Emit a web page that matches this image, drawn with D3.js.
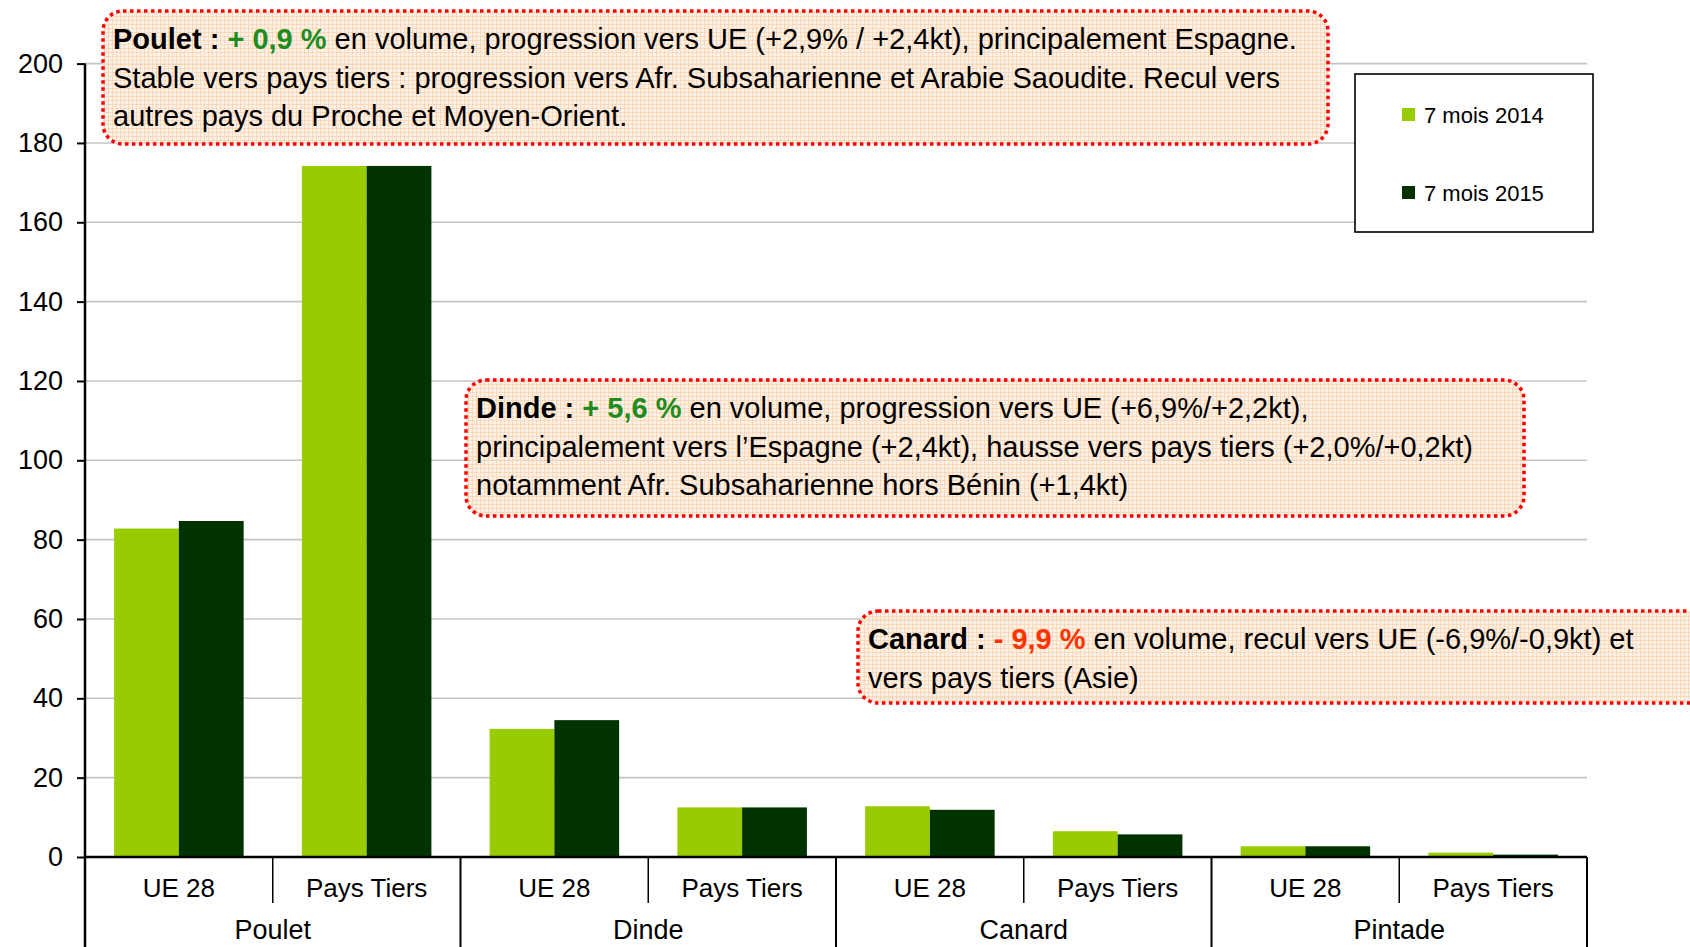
<!DOCTYPE html>
<html>
<head>
<meta charset="utf-8">
<script src="https://cdn.jsdelivr.net/npm/d3@7"></script>
<style>
  html, body { margin: 0; padding: 0; background: #fff; overflow: hidden; }
  svg { display: block; font-family: "Liberation Sans", Arial, sans-serif; }
</style>
</head>
<body>
<div id="chart"></div>
<script>
const groups = ['Poulet', 'Dinde', 'Canard', 'Pintade'];
const destinations = ['UE 28', 'Pays Tiers'];
const seriesNames = ['7 mois 2014', '7 mois 2015'];
const values2014 = [82.8, 174.2, 32.3, 12.5, 12.8, 6.5, 2.7, 1.1];
const values2015 = [84.7, 174.2, 34.5, 12.5, 11.9, 5.7, 2.7, 0.6];
const yTicks = [0, 20, 40, 60, 80, 100, 120, 140, 160, 180, 200];
const colors = ['#99cc00', '#003300'];

// commentary boxes: bold lead, coloured change, then the rest
const notes = [
  { lead: 'Poulet : ', change: '+ 0,9 %', changeColor: '#1e8c1e',
    lines: [' en volume, progression vers UE (+2,9% / +2,4kt), principalement Espagne.',
            'Stable vers pays tiers : progression vers Afr. Subsaharienne et Arabie Saoudite. Recul vers',
            'autres pays du Proche et Moyen-Orient.'] },
  { lead: 'Dinde : ', change: '+ 5,6 %', changeColor: '#1e8c1e',
    lines: [' en volume, progression vers UE (+6,9%/+2,2kt),',
            'principalement vers l\u2019Espagne (+2,4kt), hausse vers pays tiers (+2,0%/+0,2kt)',
            'notamment Afr. Subsaharienne hors B\u00e9nin (+1,4kt)'] },
  { lead: 'Canard : ', change: '- 9,9 %', changeColor: '#ff3300',
    lines: [' en volume, recul vers UE (-6,9%/-0,9kt) et',
            'vers pays tiers (Asie)'] }
];
const noteBoxes = [
  { x: 103, y: 11, w: 1225, h: 133 },
  { x: 466, y: 380, w: 1058, h: 136 },
  { x: 858, y: 611, w: 900, h: 92 }
];

const W = 1690, H = 947;
const margin = { left: 85, right: 103, top: 63.6, bottom: 90 };
const svg = d3.select('#chart').append('svg').attr('width', W).attr('height', H);

const keys = [];
groups.forEach(g => destinations.forEach(d => keys.push(g + '|' + d)));
const rows = keys.map((k, i) => ({ key: k, group: k.split('|')[0], dest: k.split('|')[1], vals: [values2014[i], values2015[i]] }));

const x0 = d3.scaleBand().domain(keys).range([margin.left, W - margin.right]).padding(0);
const bw = x0.bandwidth();
const x1 = d3.scaleBand().domain([0, 1]).range([bw * 0.155, bw * 0.845]).padding(0);
const y = d3.scaleLinear().domain([0, 200]).range([H - margin.bottom, margin.top]);
const y0 = y(0), xL = margin.left, xR = W - margin.right;

// gridlines
svg.append('g').selectAll('line').data(yTicks.filter(t => t > 0)).join('line')
  .attr('x1', xL).attr('x2', xR).attr('y1', d => y(d)).attr('y2', d => y(d))
  .attr('stroke', '#c4c4c4').attr('stroke-width', 1.6);

// y axis
const yAxis = svg.append('g').attr('transform', `translate(${xL},0)`)
  .call(d3.axisLeft(y).tickValues(yTicks).tickSize(8).tickPadding(14));
yAxis.select('.domain').remove();
yAxis.selectAll('line').attr('stroke', '#000').attr('stroke-width', 2);
yAxis.selectAll('text').attr('font-size', 27).attr('fill', '#000').attr('font-family', '"Liberation Sans", Arial, sans-serif');
svg.append('line').attr('x1', xL).attr('x2', xL).attr('y1', y(200)).attr('y2', H)
  .attr('stroke', '#000').attr('stroke-width', 2.5);

// bars
const bars = svg.append('g').selectAll('g').data(rows).join('g')
  .attr('transform', d => `translate(${x0(d.key)},0)`);
bars.selectAll('rect').data(d => d.vals.map((v, i) => ({ v, i }))).join('rect')
  .attr('x', d => x1(d.i)).attr('width', x1.bandwidth())
  .attr('y', d => y(d.v)).attr('height', d => y0 - y(d.v))
  .attr('fill', d => colors[d.i]);

// x axis and two-level category labels
svg.append('line').attr('x1', xL).attr('x2', xR).attr('y1', y0).attr('y2', y0)
  .attr('stroke', '#000').attr('stroke-width', 2.5);
svg.append('g').selectAll('line').data(keys.slice(1).concat(['end'])).join('line')
  .attr('x1', d => d === 'end' ? xR : x0(d)).attr('x2', d => d === 'end' ? xR : x0(d))
  .attr('y1', y0)
  .attr('y2', (d, i) => (d === 'end' || (i + 1) % 2 === 0) ? H : y0 + 46)
  .attr('stroke', '#000').attr('stroke-width', d => d === 'end' || keys.indexOf(d) % 2 === 0 ? 2 : 1.5);
svg.append('g').selectAll('text').data(rows).join('text')
  .attr('x', d => x0(d.key) + bw / 2).attr('y', y0 + 40)
  .attr('text-anchor', 'middle').attr('font-size', 26).attr('fill', '#000')
  .text(d => d.dest);
svg.append('g').selectAll('text').data(groups).join('text')
  .attr('x', g => x0(g + '|' + destinations[0]) + bw)
  .attr('y', H - 8)
  .attr('text-anchor', 'middle').attr('font-size', 27).attr('fill', '#000')
  .text(g => g);

// legend
const lg = svg.append('g');
lg.append('rect').attr('x', 1355).attr('y', 74).attr('width', 238).attr('height', 158)
  .attr('fill', '#fff').attr('stroke', '#000').attr('stroke-width', 1.6);
seriesNames.forEach((s, i) => {
  const ly = 115 + i * 78;
  lg.append('rect').attr('x', 1402).attr('y', ly - 7).attr('width', 13).attr('height', 13).attr('fill', colors[i]);
  lg.append('text').attr('x', 1424).attr('y', ly).attr('dy', '0.35em')
    .attr('font-size', 22).attr('fill', '#000').text(s);
});

// commentary boxes
const defs = svg.append('defs');
const pat = defs.append('pattern').attr('id', 'grid').attr('width', 4).attr('height', 4)
  .attr('patternUnits', 'userSpaceOnUse');
pat.append('rect').attr('width', 4).attr('height', 4).attr('fill', 'rgba(253,236,220,0.78)');
pat.append('path').attr('d', 'M0,0.5H4M0.5,0V4').attr('stroke', 'rgba(248,196,150,0.45)').attr('stroke-width', 1);

notes.forEach((n, k) => {
  const b = noteBoxes[k];
  const g = svg.append('g');
  g.append('rect').attr('x', b.x).attr('y', b.y).attr('width', b.w).attr('height', b.h)
    .attr('rx', 20).attr('ry', 20).attr('fill', 'url(#grid)')
    .attr('stroke', '#ff0000').attr('stroke-width', 3.5).attr('stroke-dasharray', '3.5 3.5');
  n.lines.forEach((line, j) => {
    const t = g.append('text').attr('x', b.x + 10).attr('y', b.y + 28 + j * 38.5)
      .attr('dy', '0.35em').attr('font-size', 29).attr('fill', '#000');
    if (j === 0) {
      t.append('tspan').attr('font-weight', 'bold').text(n.lead);
      t.append('tspan').attr('font-weight', 'bold').attr('fill', n.changeColor).text(n.change);
    }
    t.append('tspan').text(line);
  });
});
</script>
</body>
</html>
